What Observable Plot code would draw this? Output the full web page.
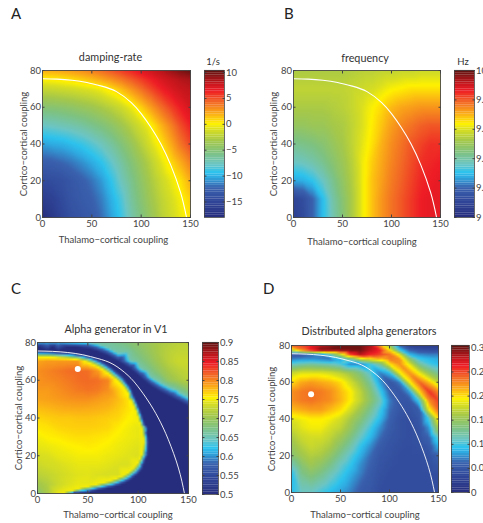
<!DOCTYPE html>
<html><head><meta charset="utf-8">
<script src="https://cdn.jsdelivr.net/npm/d3@7"></script>
<script src="https://cdn.jsdelivr.net/npm/@observablehq/plot@0.6"></script>
<style>
html,body{margin:0;padding:0;background:#fff;overflow:hidden}
#page{position:relative;width:483px;height:523px;overflow:hidden;font-family:Lato,sans-serif}
#page svg{position:absolute;overflow:visible;background:transparent}
.letter{position:absolute;font-size:15px;color:#222;line-height:15px}
</style></head><body><div id="page"></div>
<script>
const xTicks=[0,50,100,150], yTicks=[0,20,40,60,80];
const xLabel="Thalamo−cortical coupling", yLabel="Cortico−cortical coupling";
const gridX=[0,10,20,30,40,50,60,70,80,90,100,110,120,130,140,150];

// colour map: normalised stops and colours
const stops=[0,.1,.2,.27,.305,.36,.44,.52,.6,.635,.7,.78,.86,.91,1];
const colors=["#262d7c","#2f4496","#3a62ae","#2fa9e0","#2cc3ee","#6cc5c4","#7fc27f","#a5c84a","#dbe01f","#fff200","#fbb016","#f26a25","#ee1c25","#c4161c","#5c1210"];

// white boundary line
const curveX=[0,15,30,45,60,75,90,100,110,120,130,140,146];
const curveY=[75.5,75.3,74.7,73.5,71.5,68.5,62.5,56.5,49,40,28.5,13.5,0];

// A: damping-rate
const aY=[80,75,70,60,50,40,30,20,10,0];
const aV=[
[2,2.1,2.3,2.6,3,3.5,4.1,4.8,5.5,6.2,7,7.6,8.2,8.9,9.6,10.2],
[0,.1,.3,.6,1,1.5,2.1,2.8,3.6,4.5,5.4,6.3,7.1,7.7,8.2,8.5],
[-1.8,-1.7,-1.5,-1.3,-1,-.7,-.2,.6,1.6,2.8,4,5.2,6.3,7.1,7.7,8],
[-5,-4.9,-4.7,-4.4,-4,-3.6,-3,-2.3,-1.5,-.4,1,2.5,4,5.3,6.5,7.3],
[-7.8,-7.6,-7.3,-7,-6.6,-6,-5.4,-4.6,-3.6,-2.4,-1.2,0,1.7,3.3,5,6.3],
[-10.5,-10.2,-10,-9.5,-9,-8.3,-7.5,-6.5,-5.3,-4,-2.5,-1,.4,2,3.8,5.2],
[-12.8,-12.6,-12.2,-11.7,-11,-10.2,-9.3,-8,-6.6,-5.2,-3.8,-2.3,-.8,.6,2,3.5],
[-14.5,-14.3,-14,-13.3,-12.6,-11.8,-10.7,-9.2,-7.5,-6,-4.5,-3,-1.7,-.6,.5,2],
[-16,-15.5,-14.5,-13.5,-13,-12.5,-11.5,-10,-8.5,-6.5,-5,-3.5,-2.2,-1.2,-.2,1],
[-18,-16.5,-15,-14,-13.5,-13,-12,-10.5,-9,-7,-5.5,-4,-2.5,-1.5,-.5,.5]];

// B: frequency
const bY=[80,70,60,50,40,30,20,10,0];
const bV=[
[9.53,9.53,9.53,9.53,9.53,9.53,9.54,9.55,9.55,9.56,9.56,9.57,9.57,9.58,9.58,9.58],
[9.56,9.56,9.56,9.56,9.56,9.56,9.57,9.58,9.59,9.61,9.63,9.64,9.65,9.65,9.65,9.65],
[9.53,9.53,9.53,9.53,9.54,9.55,9.57,9.6,9.63,9.66,9.69,9.71,9.72,9.73,9.73,9.73],
[9.49,9.49,9.5,9.5,9.52,9.53,9.56,9.6,9.64,9.68,9.72,9.75,9.77,9.79,9.8,9.8],
[9.42,9.43,9.44,9.46,9.49,9.52,9.56,9.61,9.65,9.7,9.74,9.77,9.8,9.82,9.84,9.84],
[9.36,9.37,9.39,9.42,9.46,9.5,9.55,9.62,9.67,9.71,9.75,9.78,9.81,9.84,9.85,9.86],
[9.27,9.28,9.31,9.36,9.42,9.48,9.54,9.62,9.68,9.72,9.76,9.79,9.82,9.85,9.86,9.87],
[9.1,9.13,9.2,9.3,9.39,9.46,9.53,9.62,9.68,9.73,9.77,9.8,9.83,9.86,9.87,9.87],
[9.08,9.12,9.2,9.3,9.38,9.45,9.53,9.62,9.68,9.73,9.77,9.8,9.83,9.86,9.87,9.87]];

// C: alpha generator in V1 (null = taken from the edge lists below)
const _=null;
const cY=[80,75,70,65,60,55,50,45,40,35,30,25,20,15,10,5,0];
const cV=[
[.62,.62,.62,.63,.64,.65,.66,.665,.67,.68,.69,.70,.71,.715,.72,.72],
[_,_,_,_,_,_,_,_,_,.66,.68,.695,.71,.72,.725,.725],
[.785,.79,.79,.79,.79,_,_,.5,_,_,.665,.685,.705,.72,.73,.73],
[.795,.8,.805,.81,.812,.81,.79,_,.5,.5,_,.665,.69,.71,.72,.725],
[.793,.797,.8,.805,.81,.812,.81,.8,_,.5,.5,_,_,.695,.71,.72],
[.79,.79,.795,.8,.805,.808,.805,.795,.77,_,.5,.5,_,_,.665,.69],
[.785,.787,.79,.793,.795,.795,.79,.785,.775,.76,_,.5,.5,_,_,_],
[.775,.777,.78,.782,.783,.782,.78,.777,.77,.76,_,.5,.5,.5,.5,_],
[.765,.768,.77,.77,.772,.772,.77,.768,.765,.755,_,.5,.5,.5,.5,.5],
[.758,.76,.765,.767,.768,.768,.767,.765,.757,.75,.745,.5,.5,.5,.5,.5],
[.75,.755,.757,.76,.762,.762,.76,.757,.752,.748,.745,_,.5,.5,.5,.5],
[.745,.747,.75,.753,.755,.757,.755,.752,.748,.745,.742,_,.5,.5,.5,.5],
[.738,.74,.745,.747,.75,.75,.75,.747,.745,.742,.74,.5,.5,.5,.5,.5],
[.73,.735,.738,.742,.745,.745,.745,.743,.74,.74,_,.5,.5,.5,.5,.5],
[.72,.725,.732,.738,.742,.743,.74,.738,.738,_,.5,.5,.5,.5,.5,.5],
[.705,.715,.73,.74,.745,.745,_,_,_,.5,.5,.5,.5,.5,.5,.5],
[.68,.71,.745,_,_,.5,.5,.5,.5,.5,.5,.5,.5,.5,.5,.5]];
// sharp edges of the panel C lobe and band
const cInnerX=[0,10,20,30,40,48,55,60,64,69,73,78,83,87,90,93,96,98.5,100.5,103,104.5,105.5,105.5,105,103.5,101.5,99,95,90,85,79,70,61,52,44,38,33];
const cInnerY=[72.5,72.4,72,71.7,71,70,68.5,67.2,66,64.2,62.5,60.5,58,55.5,53,49.5,46,42.5,39,35.5,32,29.5,27,23.5,20.5,18,15.5,13,11,9.3,8,6.2,5,3.9,3,2,1];
const cOuterX=[0,10,20,30,40,48,55,60,65,70,75,80,85,89,93,96,99.5,102,104.5,107,109,110,110.5,110,108,106,104,99,93,87,81,72,63,55,48,42,36];
const cOuterY=[75.5,75.4,75.2,74.8,74.2,73.4,72.5,71.3,70,68.4,66.5,64.3,62,59,56,52,48,44.5,41,36.5,32,29.5,27,22.5,18.5,15.5,12.5,9.6,7,5.3,4,2.8,1.8,1,.2,0,0];
const cLowX=[0,15,30,40,49,59,69,80,92,102,112,122,132,141,150];
const cLowY=[77.6,77.6,77.5,77.3,76.8,75.2,73,69.8,66,61.5,57,53.7,51,48.5,46];
const cHighX=[59,69,80,92,102,112,122,132,141,150];
const cHighY=[79.3,77.5,74.5,70.5,66.5,62,58.7,56,53.5,51];

// D: distributed alpha generators
const dY=[80,77.5,75,72.5,70,65,60,55,50,45,40,35,30,25,20,15,10,0];
const dV=[
[.24,.25,.265,.28,.29,.3,.3,.3,.285,.225,.15,.06,.025,.02,.02,.02],
[.18,.23,.265,.3,.3,.3,.3,.3,.28,.26,.2,.1,.06,.045,.04,.04],
[.05,.05,.06,.07,.11,.17,.25,.28,.26,.25,.235,.19,.09,.075,.07,.07],
[.07,.075,.075,.07,.065,.08,.12,.17,.19,.21,.23,.225,.15,.1,.09,.085],
[.105,.115,.12,.115,.11,.1,.07,.07,.1,.13,.2,.225,.185,.125,.1,.09],
[.175,.185,.185,.185,.18,.17,.155,.135,.105,.07,.09,.19,.225,.19,.15,.125],
[.2,.215,.22,.215,.21,.2,.18,.155,.125,.08,.05,.07,.19,.24,.21,.17],
[.225,.232,.235,.232,.225,.21,.195,.17,.14,.1,.06,.05,.08,.2,.255,.225],
[.225,.232,.235,.23,.225,.212,.195,.172,.145,.115,.07,.05,.05,.1,.225,.25],
[.21,.215,.22,.22,.21,.2,.18,.155,.13,.1,.065,.05,.045,.055,.19,.24],
[.185,.19,.195,.195,.19,.18,.16,.14,.115,.09,.06,.045,.04,.05,.10,.2],
[.175,.185,.19,.19,.18,.17,.15,.125,.1,.075,.055,.045,.04,.045,.075,.16],
[.16,.175,.18,.18,.17,.155,.135,.11,.09,.065,.05,.045,.04,.045,.06,.11],
[.15,.165,.175,.17,.16,.14,.12,.095,.075,.055,.047,.042,.04,.042,.05,.085],
[.14,.155,.165,.16,.145,.125,.105,.085,.065,.05,.045,.04,.04,.04,.045,.06],
[.115,.14,.155,.145,.13,.11,.095,.075,.06,.047,.042,.04,.04,.04,.042,.05],
[.09,.13,.14,.13,.115,.10,.085,.07,.055,.045,.04,.04,.04,.04,.04,.04],
[.09,.11,.11,.10,.09,.08,.07,.055,.05,.04,.04,.04,.04,.04,.04,.04]];

const table=(ys,vals)=>ys.flatMap((y,i)=>gridX.map((x,j)=>({x,y,v:vals[i][j]}))).filter(d=>d.v!==null);
const edge=(xs,ys,v)=>xs.map((x,i)=>({x,y:ys[i],v}));
const curve=curveX.map((x,i)=>({x,y:curveY[i]}));
const page=document.getElementById("page");
const fontStyle={fontFamily:'Lato,sans-serif',fontSize:"9.5px",color:"#444",background:"transparent",overflow:"visible"};
const centeredText=(s,o)=>Plot.text([s],{text:d=>d,lineAnchor:"middle",...o});

function panel(c){
  const lo=c.lo,hi=c.hi;
  const colorScale={type:"linear",domain:stops.map(t=>lo+t*(hi-lo)),range:colors,clamp:true};
  const ml=34,mr=10,mt=24,mb=34;
  const w=c.R-c.L,h=c.B-c.T;
  const marks=[
    Plot.raster(c.data,{x:"x",y:"y",fill:"v",interpolate:"barycentric",pixelSize:2,x1:0,x2:150,y1:0,y2:80}),
    Plot.line(curve,{x:"x",y:"y",stroke:"#fff",strokeWidth:c.lw||1.1,curve:"natural"}),
    Plot.frame({stroke:"#333",strokeWidth:.8}),
    Plot.axisX({ticks:xTicks,tickSize:-2.5,tickPadding:5,label:null}),
    Plot.axisX({anchor:"top",ticks:xTicks,tickSize:-2.5,tickFormat:()=>"",label:null}),
    Plot.axisY({ticks:yTicks,tickSize:-2.5,tickPadding:4,label:yLabel,labelAnchor:"center",labelArrow:"none",labelOffset:c.yOff}),
    Plot.axisY({anchor:"right",ticks:yTicks,tickSize:-2.5,tickFormat:()=>"",label:null}),
    centeredText(c.title,{frameAnchor:"top",dy:c.titleDy,dx:c.titleDx,fontSize:10.8,fill:"#333"}),
    centeredText(xLabel,{frameAnchor:"bottom",dy:c.xDy,dx:c.xDx,fontSize:9.5,fill:"#444"})
  ];
  if(c.dot) marks.splice(2,0,Plot.dot([c.dot],{x:d=>d[0],y:d=>d[1],r:3,fill:"#fff"}));
  const p=Plot.plot({width:w+ml+mr,height:h+mt+mb,marginLeft:ml,marginRight:mr,marginTop:mt,marginBottom:mb,
    x:{domain:[0,150]},y:{domain:[0,80]},color:colorScale,style:fontStyle,marks});
  p.style.left=(c.L-ml)+"px";p.style.top=(c.T-mt)+"px";page.append(p);

  const levels=d3.range(64).map(i=>lo+(i+.5)/64*(hi-lo));
  const barW=c.barR-c.barL,barH=c.B2-c.T2;
  const bar=Plot.plot({width:barW+40,height:barH+30,marginLeft:1,marginRight:39,marginTop:20,marginBottom:10,
    x:{domain:[0,1],axis:null},y:{domain:[lo,hi]},color:colorScale,style:fontStyle,
    marks:[
      Plot.rect(levels,{x1:0,x2:1,y1:d=>d-(hi-lo)/64*.52,y2:d=>d+(hi-lo)/64*.52,fill:d=>d,inset:0}),
      Plot.frame({stroke:"#444",strokeWidth:.8}),
      Plot.axisY({anchor:"right",ticks:c.barTicks,tickSize:-2.5,tickPadding:4,tickFormat:c.fmt,label:null}),
      Plot.axisY({anchor:"left",ticks:c.barTicks,tickSize:-2.5,tickFormat:()=>"",label:null}),
      ...(c.unit?[centeredText(c.unit,{frameAnchor:"top",dy:-9,dx:-1.5,fontSize:9.5,fill:"#333"})]:[])
    ]});
  bar.style.left=(c.barL-1)+"px";bar.style.top=(c.T2-20)+"px";page.append(bar);

  const l=document.createElement("div");l.className="letter";l.textContent=c.letter;
  l.style.left=c.lx+"px";l.style.top=c.ly+"px";page.append(l);
}
const plain=d=>String(d).replace("-","−");
panel({letter:"A",lx:11,ly:6,L:42,R:190,T:70,B:217,title:"damping-rate",titleDy:-13,titleDx:-6,data:table(aY,aV),xDy:22,xDx:-3,yOff:22,
  lo:-18,hi:10.4,barL:204,barR:224,T2:70,B2:217,barTicks:[-15,-10,-5,0,5,10],fmt:plain,unit:"1/s"});
panel({letter:"B",lx:284,ly:6,L:293,R:440,T:70,B:217,title:"frequency",titleDy:-12,titleDx:-2,data:table(bY,bV),xDy:24.5,xDx:-5,yOff:23,
  lo:9,hi:10,barL:454,barR:474,T2:70,B2:217,barTicks:[9,9.2,9.4,9.6,9.8,10],fmt:plain,unit:"Hz"});
panel({letter:"C",lx:11,ly:281,L:37,R:188,T:342,B:493,title:"Alpha generator in V1",titleDy:-13,titleDx:3,lw:.9,dot:[40,66],
  data:[...table(cY,cV),...edge(cInnerX,cInnerY,.75),...edge(cOuterX,cOuterY,.5),...edge(cLowX,cLowY,.5),...edge(cHighX,cHighY,.655)],
  xDy:21,xDx:5,yOff:22,lo:.5,hi:.9,barL:202,barR:218,T2:342,B2:494,barTicks:[.5,.55,.6,.65,.7,.75,.8,.85,.9],fmt:plain});
panel({letter:"D",lx:263,ly:281,L:291,R:438,T:345,B:492,title:"Distributed alpha generators",titleDy:-14,titleDx:4,lw:.9,dot:[20,53.5],
  data:table(dY,dV),xDy:22,xDx:0,yOff:23,lo:0,hi:.305,barL:451,barR:469,T2:345,B2:492,barTicks:[0,.05,.1,.15,.2,.25,.3],fmt:plain});
</script></body></html>
